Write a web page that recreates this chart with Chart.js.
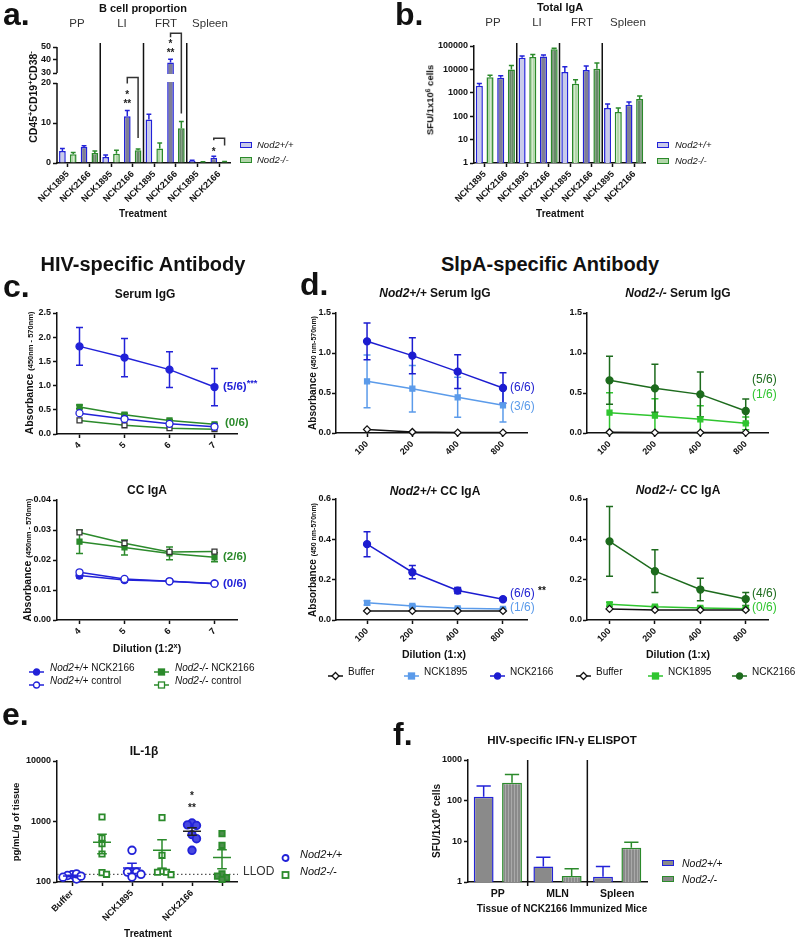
<!DOCTYPE html>
<html lang="en">
<head>
<meta charset="UTF-8" />
<meta name="viewport" content="width=device-width, initial-scale=1.0" />
<script src="https://cdn.jsdelivr.net/npm/chart.js@4.4.1/dist/chart.umd.min.js"></script>
<title>Nod2 :: B cells, IgA and antigen-specific responses</title>
<style>
  html, body { margin: 0; padding: 0; background: #fff; }
  #page { position: relative; width: 796px; height: 940px; overflow: hidden; background: #fff;
          font-family: "Liberation Sans", Arial, Helvetica, sans-serif; color: #111; }
  #page canvas { position: absolute; }
  .t { position: absolute; white-space: nowrap; line-height: 1; }
  .letter { font-size: 32px; font-weight: bold; }
  .head { font-size: 20px; font-weight: bold; }
  .ttl { font-size: 11.5px; font-weight: bold; }
  .ax { font-size: 10.5px; font-weight: bold; }
  .tis { font-size: 11.5px; color: #333; }
  .leg { font-size: 10px; }
  .frac { font-size: 12px; }
  .fracb { font-size: 11.5px; font-weight: bold; }
  sup { font-size: 70%; line-height: 0; vertical-align: 0.45em; }
  .key { position: absolute; box-sizing: border-box; }
</style>
</head>
<body>
<div id="page"></div>
<script>
// ---------- data ----------
// a. B cell proportion (CD45+CD19+CD38-), mean and SEM
const tissues = ['PP', 'LI', 'FRT', 'Spleen'];
const treatments = ['NCK1895', 'NCK2166', 'NCK1895', 'NCK2166', 'NCK1895', 'NCK2166', 'NCK1895', 'NCK2166'];
const bcellWT = [3.0, 4.0, 1.5, 11.7, 10.9, 38.0, 0.5, 1.3];
const bcellWTSem = [0.6, 0.3, 0.5, 1.4, 1.3, 2.5, 0.2, 0.4];
const bcellKO = [2.2, 2.5, 2.3, 3.2, 3.6, 8.7, 0.2, 0.3];
const bcellKOSem = [0.4, 0.5, 0.9, 0.3, 1.4, 1.7, 0.1, 0.1];
const bcellTicks = [0, 10, 20, 30, 40, 50];

// b. Total IgA, SFU / 1x10^6 cells
const igaWT = [2000, 4450, 31700, 36000, 7800, 9400, 225, 310];
const igaWTSem = [500, 850, 5300, 5000, 5200, 4600, 105, 95];
const igaKO = [4600, 9800, 34000, 72000, 2450, 10700, 152, 550];
const igaKOSem = [1000, 4700, 9000, 9000, 1150, 8300, 73, 180];
const igaTicks = [1, 10, 100, 1000, 10000, 100000];

// c. HIV-specific antibody, dilution 1:2^x
const dilExp = ['4', '5', '6', '7'];
const serumWT2166 = [1.81, 1.58, 1.33, 0.97];
const serumWT2166Sem = [0.39, 0.395, 0.37, 0.385];
const serumKO2166 = [0.56, 0.40, 0.28, 0.20];
const serumKO2166Sem = [0.04, 0.03, 0.02, 0.015];
const serumWTCtrl = [0.43, 0.31, 0.21, 0.15];
const serumKOCtrl = [0.28, 0.18, 0.12, 0.10];
const ccWT2166 = [0.0148, 0.0133, 0.0129, 0.0122];
const ccWT2166Sem = [0.0008, 0.0006, 0.0004, 0.0003];
const ccKO2166 = [0.0261, 0.0242, 0.0222, 0.0209];
const ccKO2166Sem = [0.0039, 0.0025, 0.0021, 0.0015];
const ccWTCtrl = [0.0159, 0.0137, 0.0129, 0.0121];
const ccKOCtrl = [0.0292, 0.0256, 0.0227, 0.0228];

// d. SlpA-specific antibody, dilution 1:x
const dilutions = [100, 200, 400, 800];
const slpSerumWT2166 = [1.146, 0.967, 0.767, 0.563];
const slpSerumWT2166Sem = [0.23, 0.225, 0.21, 0.19];
const slpSerumWT1895 = [0.646, 0.554, 0.446, 0.346];
const slpSerumWT1895Sem = [0.33, 0.29, 0.25, 0.21];
const slpSerumWTBuf = [0.045, 0.012, 0.005, 0.005];
const slpSerumKO2166 = [0.658, 0.558, 0.483, 0.275];
const slpSerumKO2166Sem = [0.30, 0.30, 0.28, 0.15];
const slpSerumKO1895 = [0.254, 0.217, 0.171, 0.121];
const slpSerumKO1895Sem = [0.25, 0.21, 0.17, 0.08];
const slpSerumKOBuf = [0.01, 0.005, 0.005, 0.005];
const slpCcWT2166 = [0.376, 0.237, 0.146, 0.103];
const slpCcWT2166Sem = [0.062, 0.033, 0.015, 0.006];
const slpCcWT1895 = [0.085, 0.070, 0.058, 0.055];
const slpCcWT1895Sem = [0.010, 0.005, 0.004, 0.003];
const slpCcWTBuf = [0.045, 0.045, 0.045, 0.045];
const slpCcKO2166 = [0.390, 0.242, 0.151, 0.104];
const slpCcKO2166Sem = [0.173, 0.106, 0.056, 0.032];
const slpCcKO1895 = [0.078, 0.066, 0.060, 0.056];
const slpCcKO1895Sem = [0.010, 0.006, 0.005, 0.004];
const slpCcKOBuf = [0.055, 0.050, 0.050, 0.050];

// e. IL-1beta, pg/mL/g of tissue (individual mice)
const il1bGroups = ['Buffer', '', 'NCK1895', '', 'NCK2166', ''];
const il1bBufferWT = [132, 112, 128, 136, 125, 120];
const il1bBufferKO = [1186, 533, 430, 290, 143, 134];
const il1b1895WT = [334, 146, 146, 146, 121, 134];
const il1b1895KO = [1160, 276, 150, 145, 145, 132];
const il1b2166WT = [944, 860, 880, 606, 520, 334];
const il1b2166KO = [630, 404, 136, 118, 125, 110];
const il1bTicks = [100, 1000, 10000];
const llod = 134;

// f. HIV-specific IFN-gamma ELISPOT
const ifnTissues = ['PP', 'MLN', 'Spleen'];
const ifnWT = [124, 2.39, 1.35];
const ifnWTSem = [104, 1.66, 1.04];
const ifnKO = [276, 1.41, 7.0];
const ifnKOSem = [167, 0.72, 2.5];
const ifnTicks = [1, 10, 100, 1000];

// ---------- setup ----------
const page = document.getElementById('page');
const INK = '#111';
const BLUE = '#2222d8', GREEN = '#2b8a2b';
const D_BLUE = '#1c1cd0', L_BLUE = '#5b9bea', D_GREEN = '#1d6b1d', B_GREEN = '#2fc52f';

Chart.defaults.font.family = '"Liberation Sans", Arial, Helvetica, sans-serif';
Chart.defaults.font.size = 9;
Chart.defaults.font.weight = 'bold';
Chart.defaults.color = INK;
Chart.defaults.animation = false;
Chart.defaults.responsive = false;
Chart.defaults.events = [];
Chart.defaults.plugins.legend.display = false;
Chart.defaults.plugins.tooltip.enabled = false;

function stripes(base, line) {
  const p = document.createElement('canvas');
  p.width = 3; p.height = 3;
  const g = p.getContext('2d');
  g.fillStyle = base; g.fillRect(0, 0, 3, 3);
  g.fillStyle = line; g.fillRect(1, 0, 1, 3);
  return g.createPattern(p, 'repeat');
}
const WT_LIGHT = '#c9cbea', WT_DARK = '#7f7f95';
const KO_LIGHT = stripes('#b2d6aa', '#d4ead0');
const KO_DARK = stripes('#68886a', '#87a386');
const GREY = '#8a8a8a', GREY_STRIPE = stripes('#8a8a8a', '#a9a9a9');

function axis(opts) {
  const o = Object.assign({
    border: { display: true, color: INK, width: 1.5 },
    grid: { display: true, drawOnChartArea: false, drawTicks: true, tickLength: 4, tickWidth: 1.5, tickColor: INK, offset: false },
  }, opts);
  o.ticks = Object.assign({ color: INK, padding: 2, autoSkip: false, font: { size: 9, weight: 'bold' } }, opts.ticks || {});
  return o;
}

// puts a chart so that its plot area lands on box (page pixels)
function place(box, cfg) {
  const m = { l: 60, t: 30, r: 40, b: 70 };
  const w = box.r - box.l + m.l + m.r, h = box.b - box.t + m.t + m.b;
  const cv = document.createElement('canvas');
  cv.width = w; cv.height = h;
  cv.style.left = (box.l - m.l) + 'px';
  cv.style.top = (box.t - m.t) + 'px';
  cv.style.width = w + 'px'; cv.style.height = h + 'px';
  page.appendChild(cv);
  cfg.options.layout = { padding: { left: 0, right: m.r, top: m.t, bottom: 0 } };
  cfg.options.scales.x.afterFit = s => { s.height = m.b; s.paddingLeft = 0; s.paddingRight = 0; };
  cfg.options.scales.y.afterFit = s => { s.width = m.l; s.paddingTop = 0; s.paddingBottom = 0; };
  return new Chart(cv, cfg);
}

function T(x, y, html, cls, css, anchor) {
  const d = document.createElement('div');
  d.className = 't ' + (cls || '');
  d.innerHTML = html;
  d.style.left = x + 'px';
  d.style.top = y + 'px';
  d.style.transform = anchor === 'l' ? 'translate(0,-50%)'
    : anchor === 'v' ? 'translate(-50%,-50%) rotate(-90deg)' : 'translate(-50%,-50%)';
  if (css) d.style.cssText += css;
  page.appendChild(d);
}

function marker(shape, fill, edge) {
  if (shape === 'circle') return `<circle cx="7.5" cy="5" r="3" fill="${fill}" stroke="${edge}" stroke-width="1.3"/>`;
  if (shape === 'rect') return `<rect x="4.5" y="2" width="6" height="6" fill="${fill}" stroke="${edge}" stroke-width="1.3"/>`;
  return `<path d="M7.5 1.5L11 5L7.5 8.5L4 5Z" fill="${fill}" stroke="${edge}" stroke-width="1.3"/>`;
}
function keyLine(x, y, color, shape, filled, edge) {
  const d = document.createElement('div');
  d.className = 'key';
  d.style.left = x + 'px'; d.style.top = (y - 5) + 'px';
  d.innerHTML = `<svg width="15" height="10"><line x1="0" y1="5" x2="15" y2="5" stroke="${color}" stroke-width="1.5"/>` +
    marker(shape, filled ? color : '#fff', edge || color) + '</svg>';
  page.appendChild(d);
}
function keyDot(x, y, color, shape) {
  const d = document.createElement('div');
  d.className = 'key';
  d.style.left = (x - 7.5) + 'px'; d.style.top = (y - 5) + 'px';
  d.innerHTML = '<svg width="15" height="10">' + marker(shape, '#fff', color).replace('stroke-width="1.3"', 'stroke-width="1.8"') + '</svg>';
  page.appendChild(d);
}
function keyBox(x, y, edge, fill) {
  const d = document.createElement('div');
  d.className = 'key';
  d.style.cssText += `left:${x}px;top:${y - 3}px;width:12px;height:6px;border:1.5px solid ${edge};background:${fill};`;
  page.appendChild(d);
}

// error bars: bars get the upper whisker only, lines both
function errorBars(opts) {
  const map = (opts && opts.map) || (v => v);
  const hook = opts && opts.under ? 'beforeDatasetsDraw' : 'afterDatasetsDraw';
  return {
    id: 'errorBars',
    [hook](chart) {
      const ctx = chart.ctx, ys = chart.scales.y, isBar = chart.config.type === 'bar';
      chart.data.datasets.forEach((ds, di) => {
        if (!ds.err) return;
        ctx.save();
        ctx.strokeStyle = ds.errColor || ds.borderColor;
        ctx.lineWidth = 1.5;
        chart.getDatasetMeta(di).data.forEach((el, i) => {
          const v = ds.values[i], e = ds.err[i];
          const cap = isBar ? el.width * 0.36 : 3.5;
          const top = ys.getPixelForValue(map(v + e));
          const bot = isBar ? el.y : ys.getPixelForValue(map(Math.max(v - e, 0)));
          ctx.beginPath();
          ctx.moveTo(el.x, bot); ctx.lineTo(el.x, top);
          ctx.moveTo(el.x - cap, top); ctx.lineTo(el.x + cap, top);
          if (!isBar) { ctx.moveTo(el.x - cap, bot); ctx.lineTo(el.x + cap, bot); }
          ctx.stroke();
        });
        ctx.restore();
      });
    }
  };
}

function separators(idx, above, below) {
  return {
    id: 'separators',
    afterDatasetsDraw(chart) {
      const { ctx, chartArea: ca, scales: { x } } = chart;
      ctx.save();
      ctx.strokeStyle = INK; ctx.lineWidth = 1.5;
      idx.forEach(i => {
        const px = (x.getPixelForValue(i - 1) + x.getPixelForValue(i)) / 2;
        ctx.beginPath(); ctx.moveTo(px, ca.top - above); ctx.lineTo(px, ca.bottom + below); ctx.stroke();
      });
      ctx.restore();
    }
  };
}

function lineSet(values, color, shape, filled, sem, edge, xs) {
  return {
    data: xs ? xs.map((x, i) => ({ x, y: values[i] })) : values,
    values, err: sem || null, errColor: color,
    borderColor: color, borderWidth: 1.5, backgroundColor: filled ? color : '#fff',
    pointStyle: shape, pointRadius: 3.5, pointBorderWidth: 1.3,
    pointBorderColor: edge || color, pointBackgroundColor: filled ? color : '#fff',
    tension: 0, clip: false
  };
}

// ---------- a. B cell proportion (broken y axis) ----------
function bcellAxis(v) { return v <= 20 ? v * 4 : 90 + (v - 30) * 1.3; }
const bcellBrackets = [
  { i: 3, rise: 33, leg: 6, drop: 11, stars: ['**', '*'] },
  { i: 5, rise: 26, leg: 4, drop: 8, stars: ['**', '*'] },
  { i: 7, rise: 18, leg: 2, drop: 16, stars: ['*'] },
];
const decoA = {
  id: 'decoA',
  afterDatasetsDraw(chart) {
    const { ctx, chartArea: ca, scales: { y } } = chart;
    const gTop = y.getPixelForValue(bcellAxis(30)), gBot = y.getPixelForValue(bcellAxis(20));
    ctx.save();
    chart.data.datasets.forEach((ds, di) => chart.getDatasetMeta(di).data.forEach((el, i) => {
      if (ds.values[i] > 30) {
        ctx.fillStyle = '#fff';
        ctx.fillRect(el.x - el.width / 2 - 1, gTop + 1, el.width + 2, gBot - gTop - 2);
      }
    }));
    ctx.strokeStyle = INK; ctx.lineWidth = 1.5;
    ctx.beginPath();
    ctx.moveTo(ca.left, ca.bottom + 0.75); ctx.lineTo(ca.left, gBot);
    ctx.moveTo(ca.left, gTop); ctx.lineTo(ca.left, ca.top);
    ctx.stroke();
    const wt = chart.getDatasetMeta(0).data, ko = chart.getDatasetMeta(1).data;
    ctx.strokeStyle = '#333';
    ctx.fillStyle = '#222';
    ctx.font = 'bold 10px "Liberation Sans", Arial';
    ctx.textAlign = 'center'; ctx.textBaseline = 'middle';
    bcellBrackets.forEach(b => {
      const t0 = y.getPixelForValue(bcellAxis(bcellWT[b.i] + bcellWTSem[b.i]));
      const t1 = y.getPixelForValue(bcellAxis(bcellKO[b.i] + bcellKOSem[b.i]));
      const top = t0 - b.rise;
      ctx.beginPath();
      ctx.moveTo(wt[b.i].x, top + b.leg); ctx.lineTo(wt[b.i].x, top);
      ctx.lineTo(ko[b.i].x, top); ctx.lineTo(ko[b.i].x, t1 - b.drop);
      ctx.stroke();
      b.stars.forEach((s, k) => ctx.fillText(s, wt[b.i].x, t0 - 6 - k * 11 + (s === '*' ? 2 : 0)));
    });
    ctx.restore();
  }
};

place({ l: 57, t: 47, r: 230, b: 163 }, {
  type: 'bar',
  data: {
    labels: treatments,
    datasets: [
      { label: 'Nod2+/+', data: bcellWT.map(bcellAxis), values: bcellWT, err: bcellWTSem,
        backgroundColor: treatments.map(t => t === 'NCK1895' ? WT_LIGHT : WT_DARK),
        borderColor: BLUE, borderWidth: 1.5, barPercentage: 0.62, categoryPercentage: 1 },
      { label: 'Nod2-/-', data: bcellKO.map(bcellAxis), values: bcellKO, err: bcellKOSem,
        backgroundColor: treatments.map(t => t === 'NCK1895' ? KO_LIGHT : KO_DARK),
        borderColor: GREEN, borderWidth: 1.5, barPercentage: 0.62, categoryPercentage: 1 },
    ]
  },
  options: {
    scales: {
      x: axis({ type: 'category', offset: true, ticks: { minRotation: 45, maxRotation: 45 } }),
      y: axis({ min: 0, max: bcellAxis(50), border: { display: false },
        afterBuildTicks: s => { s.ticks = bcellTicks.map(v => ({ value: bcellAxis(v) })); },
        ticks: { callback: (v, i) => String(bcellTicks[i]) } }),
    }
  },
  plugins: [decoA, separators([2, 4, 6], 4, 0), errorBars({ map: bcellAxis })]
});

// ---------- b. Total IgA ----------
place({ l: 474, t: 46, r: 645, b: 163 }, {
  type: 'bar',
  data: {
    labels: treatments,
    datasets: [
      { label: 'Nod2+/+', data: igaWT, values: igaWT, err: igaWTSem,
        backgroundColor: treatments.map(t => t === 'NCK1895' ? WT_LIGHT : WT_DARK),
        borderColor: BLUE, borderWidth: 1.5, barPercentage: 0.66, categoryPercentage: 1 },
      { label: 'Nod2-/-', data: igaKO, values: igaKO, err: igaKOSem,
        backgroundColor: treatments.map(t => t === 'NCK1895' ? KO_LIGHT : KO_DARK),
        borderColor: GREEN, borderWidth: 1.5, barPercentage: 0.66, categoryPercentage: 1 },
    ]
  },
  options: {
    scales: {
      x: axis({ type: 'category', offset: true, ticks: { minRotation: 45, maxRotation: 45 } }),
      y: axis({ type: 'logarithmic', min: 1, max: 100000,
        afterBuildTicks: s => { s.ticks = igaTicks.map(v => ({ value: v })); },
        ticks: { callback: v => String(v) } }),
    }
  },
  plugins: [separators([2, 4, 6], 3, 0), errorBars()]
});

// ---------- c. HIV-specific antibody ----------
const cX = () => axis({ type: 'category', offset: true, ticks: { minRotation: 45, maxRotation: 45 } });
place({ l: 57, t: 313, r: 237, b: 434 }, {
  type: 'line',
  data: {
    labels: dilExp,
    datasets: [
      lineSet(serumWTCtrl, BLUE, 'circle', false),
      lineSet(serumKOCtrl, GREEN, 'rect', false, null, '#333'),
      lineSet(serumKO2166, GREEN, 'rect', true, serumKO2166Sem),
      lineSet(serumWT2166, BLUE, 'circle', true, serumWT2166Sem),
    ]
  },
  options: { scales: { x: cX(), y: axis({ min: 0, max: 2.5, ticks: { stepSize: 0.5, callback: v => v.toFixed(1) } }) } },
  plugins: [errorBars({ under: true })]
});
place({ l: 57, t: 500, r: 237, b: 620 }, {
  type: 'line',
  data: {
    labels: dilExp,
    datasets: [
      lineSet(ccWTCtrl, BLUE, 'circle', false),
      lineSet(ccKOCtrl, GREEN, 'rect', false, null, '#333'),
      lineSet(ccKO2166, GREEN, 'rect', true, ccKO2166Sem),
      lineSet(ccWT2166, BLUE, 'circle', true, ccWT2166Sem),
    ]
  },
  options: { scales: { x: cX(), y: axis({ min: 0, max: 0.04, ticks: { stepSize: 0.01, callback: v => v.toFixed(2) } }) } },
  plugins: [errorBars({ under: true })]
});

// ---------- d. SlpA-specific antibody ----------
function dX(min, max) {
  return axis({ type: 'logarithmic', min, max,
    afterBuildTicks: s => { s.ticks = dilutions.map(v => ({ value: v })); },
    ticks: { minRotation: 45, maxRotation: 45, callback: v => String(v) } });
}
function dChart(box, xmin, xmax, ymax, sets) {
  place(box, {
    type: 'line',
    data: { datasets: sets },
    options: { scales: { x: dX(xmin, xmax),
      y: axis({ min: 0, max: ymax, ticks: { padding: 1, stepSize: ymax === 1.5 ? 0.5 : 0.2, callback: v => v.toFixed(1) } }) } },
    plugins: [errorBars({ under: true })]
  });
}
dChart({ l: 336, t: 313, r: 527, b: 433 }, 62.2, 1155, 1.5, [
  lineSet(slpSerumWTBuf, INK, 'rectRot', false, null, null, dilutions),
  lineSet(slpSerumWT1895, L_BLUE, 'rect', true, slpSerumWT1895Sem, null, dilutions),
  lineSet(slpSerumWT2166, D_BLUE, 'circle', true, slpSerumWT2166Sem, null, dilutions),
]);
dChart({ l: 587, t: 313, r: 768, b: 433 }, 70.9, 1124, 1.5, [
  lineSet(slpSerumKOBuf, INK, 'rectRot', false, null, null, dilutions),
  lineSet(slpSerumKO1895, B_GREEN, 'rect', true, slpSerumKO1895Sem, null, dilutions),
  lineSet(slpSerumKO2166, D_GREEN, 'circle', true, slpSerumKO2166Sem, null, dilutions),
]);
dChart({ l: 336, t: 499, r: 527, b: 620 }, 62.2, 1155, 0.6, [
  lineSet(slpCcWTBuf, INK, 'rectRot', false, null, null, dilutions),
  lineSet(slpCcWT1895, L_BLUE, 'rect', true, slpCcWT1895Sem, null, dilutions),
  lineSet(slpCcWT2166, D_BLUE, 'circle', true, slpCcWT2166Sem, null, dilutions),
]);
dChart({ l: 587, t: 499, r: 768, b: 620 }, 70.9, 1124, 0.6, [
  lineSet(slpCcKOBuf, INK, 'rectRot', false, null, null, dilutions),
  lineSet(slpCcKO1895, B_GREEN, 'rect', true, slpCcKO1895Sem, null, dilutions),
  lineSet(slpCcKO2166, D_GREEN, 'circle', true, slpCcKO2166Sem, null, dilutions),
]);

// ---------- e. IL-1beta ----------
const il1bCols = [il1bBufferWT, il1bBufferKO, il1b1895WT, il1b1895KO, il1b2166WT, il1b2166KO];
const il1bFilled = [false, false, false, false, true, true];
const PX_DEC = 60.5, PX_COL = 30, R = 4.5;
function swarm(vals, col) {
  const placed = [];
  return vals.map(v => {
    const py = Math.log10(v) * PX_DEC;
    let dx = 0;
    for (const o of [0, 1, -1, 2, -2, 3, -3]) {
      if (!placed.some(p => Math.hypot(p.dx - o * R, p.py - py) < R)) { dx = o * R; break; }
    }
    placed.push({ dx, py });
    return { x: col + dx / PX_COL, y: v };
  });
}
const wtPts = [], koPts = [], wtFill = [], koFill = [];
il1bCols.forEach((vals, c) => {
  const pts = swarm(vals, c);
  if (c % 2 === 0) { wtPts.push(...pts); vals.forEach(() => wtFill.push(il1bFilled[c] ? '#4848e0' : '#fff')); }
  else { koPts.push(...pts); vals.forEach(() => koFill.push(il1bFilled[c] ? '#4c8f4c' : '#fff')); }
});
const decoE = {
  id: 'decoE',
  beforeDatasetsDraw(chart) {
    const { ctx, chartArea: ca, scales: { y } } = chart;
    const py = y.getPixelForValue(llod);
    ctx.save();
    ctx.setLineDash([1.5, 2.5]); ctx.strokeStyle = '#555'; ctx.lineWidth = 1.3;
    ctx.beginPath(); ctx.moveTo(ca.left, py); ctx.lineTo(ca.right + 1, py); ctx.stroke();
    ctx.restore();
  },
  afterDatasetsDraw(chart) {
    const { ctx, scales: { x, y } } = chart;
    ctx.save();
    ctx.lineWidth = 1.5;
    il1bCols.forEach((vals, c) => {
      const n = vals.length, mean = vals.reduce((a, b) => a + b, 0) / n;
      const sd = Math.sqrt(vals.reduce((a, b) => a + (b - mean) ** 2, 0) / (n - 1));
      const sem = sd / Math.sqrt(n);
      const xc = x.getPixelForValue(c), hw = 0.3 * PX_COL, cw = 0.16 * PX_COL;
      const ym = y.getPixelForValue(mean), yt = y.getPixelForValue(mean + sem), yb = y.getPixelForValue(mean - sem);
      ctx.strokeStyle = c % 2 ? GREEN : (c === 4 ? '#222' : BLUE);
      ctx.beginPath();
      ctx.moveTo(xc - hw, ym); ctx.lineTo(xc + hw, ym);
      ctx.moveTo(xc, yb); ctx.lineTo(xc, yt);
      ctx.moveTo(xc - cw, yt); ctx.lineTo(xc + cw, yt);
      ctx.moveTo(xc - cw, yb); ctx.lineTo(xc + cw, yb);
      ctx.stroke();
    });
    const xs = x.getPixelForValue(4), top = y.getPixelForValue(Math.max(...il1b2166WT));
    ctx.fillStyle = '#222';
    ctx.font = 'bold 10px "Liberation Sans", Arial';
    ctx.textAlign = 'center'; ctx.textBaseline = 'middle';
    ctx.fillText('**', xs, top - 15);
    ctx.fillText('*', xs, top - 27);
    ctx.restore();
  }
};
place({ l: 57, t: 761, r: 237, b: 882 }, {
  type: 'scatter',
  data: {
    datasets: [
      { data: wtPts, pointStyle: 'circle', pointRadius: 3.8, pointBorderWidth: 1.8,
        borderColor: BLUE, pointBorderColor: BLUE, pointBackgroundColor: wtFill, clip: false },
      { data: koPts, pointStyle: 'rect', pointRadius: 3.8, pointBorderWidth: 1.8,
        borderColor: GREEN, pointBorderColor: GREEN, pointBackgroundColor: koFill, clip: false },
    ]
  },
  options: {
    scales: {
      x: axis({ type: 'linear', min: -0.5, max: il1bGroups.length - 0.5,
        afterBuildTicks: s => { s.ticks = il1bGroups.map((g, i) => ({ value: i })); },
        ticks: { minRotation: 45, maxRotation: 45, callback: (v, i) => il1bGroups[i] } }),
      y: axis({ type: 'logarithmic', min: 100, max: 10000,
        afterBuildTicks: s => { s.ticks = il1bTicks.map(v => ({ value: v })); },
        ticks: { callback: v => String(v) } }),
    }
  },
  plugins: [decoE]
});

// ---------- f. IFN-gamma ELISPOT ----------
place({ l: 468, t: 760, r: 647, b: 882 }, {
  type: 'bar',
  data: {
    labels: ifnTissues,
    datasets: [
      { label: 'Nod2+/+', data: ifnWT, values: ifnWT, err: ifnWTSem, backgroundColor: GREY,
        borderColor: BLUE, borderWidth: 1.5, barPercentage: 0.7, categoryPercentage: 0.95 },
      { label: 'Nod2-/-', data: ifnKO, values: ifnKO, err: ifnKOSem, backgroundColor: GREY_STRIPE,
        borderColor: GREEN, borderWidth: 1.5, barPercentage: 0.7, categoryPercentage: 0.95 },
    ]
  },
  options: {
    scales: {
      x: axis({ type: 'category', offset: true,
        grid: { display: true, drawOnChartArea: false, drawTicks: false, tickLength: 0 },
        ticks: { minRotation: 0, maxRotation: 0, padding: 6, font: { size: 10.5, weight: 'bold' } } }),
      y: axis({ type: 'logarithmic', min: 1, max: 1000,
        afterBuildTicks: s => { s.ticks = ifnTicks.map(v => ({ value: v })); },
        ticks: { callback: v => String(v) } }),
    }
  },
  plugins: [separators([1, 2], 0, 4), errorBars()]
});

// ---------- text ----------
T(3, 14, 'a.', 'letter', null, 'l');
T(395, 14, 'b.', 'letter', null, 'l');
T(3, 286, 'c.', 'letter', null, 'l');
T(300, 284, 'd.', 'letter', null, 'l');
T(2, 714, 'e.', 'letter', null, 'l');
T(393, 734, 'f.', 'letter', null, 'l');
T(143, 264, 'HIV-specific Antibody', 'head');
T(550, 264, 'SlpA-specific Antibody', 'head');

// a
T(143, 8, 'B cell proportion', 'ttl', 'font-size:11px');
[[77, 'PP'], [122, 'LI'], [166, 'FRT'], [210, 'Spleen']].forEach(([x, s]) => T(x, 24, s, 'tis'));
T(33, 97, 'CD45<sup>+</sup>CD19<sup>+</sup>CD38<sup>-</sup>', 'ax', null, 'v');
T(143, 214, 'Treatment', 'ax', 'font-size:10px');
keyBox(240, 145, BLUE, WT_LIGHT); T(257, 145, '<i>Nod2+/+</i>', 'leg', 'font-size:9.5px', 'l');
keyBox(240, 160, GREEN, '#b2d6aa'); T(257, 160, '<i>Nod2-/-</i>', 'leg', 'font-size:9.5px', 'l');

// b
T(560, 7, 'Total IgA', 'ttl', 'font-size:11px');
[[493, 'PP'], [537, 'LI'], [582, 'FRT'], [628, 'Spleen']].forEach(([x, s]) => T(x, 23, s, 'tis'));
T(430, 100, 'SFU/1x10<sup>6</sup> cells', 'ax', 'font-size:9.5px', 'v');
T(560, 214, 'Treatment', 'ax', 'font-size:10px');
keyBox(657, 145, BLUE, WT_LIGHT); T(675, 145, '<i>Nod2+/+</i>', 'leg', 'font-size:9.5px', 'l');
keyBox(657, 161, GREEN, '#b2d6aa'); T(675, 161, '<i>Nod2-/-</i>', 'leg', 'font-size:9.5px', 'l');

// c
const absC = 'Absorbance <span style="font-size:7.5px">(450nm - 570nm)</span>';
T(145, 294, 'Serum IgG', 'ttl', 'font-size:12px');
T(147, 490, 'CC IgA', 'ttl', 'font-size:12px');
T(29, 373, absC, 'ax', null, 'v');
T(27, 560, absC, 'ax', null, 'v');
T(147, 648, 'Dilution (1:2<sup>x</sup>)', 'ax');
T(223, 387, '(5/6)<sup style="font-size:80%">***</sup>', 'fracb', 'color:' + BLUE, 'l');
T(225, 423, '(0/6)', 'fracb', 'color:' + GREEN, 'l');
T(223, 557, '(2/6)', 'fracb', 'color:' + GREEN, 'l');
T(223, 584, '(0/6)', 'fracb', 'color:' + BLUE, 'l');
keyLine(29, 668, BLUE, 'circle', true); T(50, 668, '<i>Nod2+/+</i> NCK2166', 'leg', null, 'l');
keyLine(154, 668, GREEN, 'rect', true); T(175, 668, '<i>Nod2-/-</i> NCK2166', 'leg', null, 'l');
keyLine(29, 681, BLUE, 'circle', false); T(50, 681, '<i>Nod2+/+</i> control', 'leg', null, 'l');
keyLine(154, 681, GREEN, 'rect', false); T(175, 681, '<i>Nod2-/-</i> control', 'leg', null, 'l');

// d
const absD = 'Absorbance <span style="font-size:7px">(450 nm-570nm)</span>';
T(435, 293, '<i>Nod2+/+</i> Serum IgG', 'ttl', 'font-size:12px');
T(678, 293, '<i>Nod2-/-</i> Serum IgG', 'ttl', 'font-size:12px');
T(435, 491, '<i>Nod2+/+</i> CC IgA', 'ttl', 'font-size:12px');
T(678, 490, '<i>Nod2-/-</i> CC IgA', 'ttl', 'font-size:12px');
T(313, 373, absD, 'ax', 'font-size:10px', 'v');
T(313, 560, absD, 'ax', 'font-size:10px', 'v');
T(434, 654, 'Dilution (1:x)', 'ax');
T(678, 654, 'Dilution (1:x)', 'ax');
T(510, 387, '(6/6)', 'frac', 'color:' + D_BLUE, 'l');
T(510, 406, '(3/6)', 'frac', 'color:' + L_BLUE, 'l');
T(752, 379, '(5/6)', 'frac', 'color:' + D_GREEN, 'l');
T(752, 394, '(1/6)', 'frac', 'color:' + B_GREEN, 'l');
T(510, 593, '(6/6)', 'frac', 'color:' + D_BLUE, 'l');
T(538, 591, '**', 'fracb', 'font-size:10px', 'l');
T(510, 607, '(1/6)', 'frac', 'color:' + L_BLUE, 'l');
T(752, 593, '(4/6)', 'frac', 'color:' + D_GREEN, 'l');
T(752, 607, '(0/6)', 'frac', 'color:' + B_GREEN, 'l');
keyLine(328, 672, INK, 'rectRot', false); T(348, 672, 'Buffer', 'leg', null, 'l');
keyLine(404, 672, L_BLUE, 'rect', true); T(424, 672, 'NCK1895', 'leg', null, 'l');
keyLine(490, 672, D_BLUE, 'circle', true); T(510, 672, 'NCK2166', 'leg', null, 'l');
keyLine(576, 672, INK, 'rectRot', false); T(596, 672, 'Buffer', 'leg', null, 'l');
keyLine(648, 672, B_GREEN, 'rect', true); T(668, 672, 'NCK1895', 'leg', null, 'l');
keyLine(732, 672, D_GREEN, 'circle', true); T(752, 672, 'NCK2166', 'leg', null, 'l');

// e
T(144, 751, 'IL-1β', 'ttl', 'font-size:12px');
T(16, 822, 'pg/mL/g of tissue', 'ax', 'font-size:9.5px', 'v');
T(148, 934, 'Treatment', 'ax', 'font-size:10px');
T(243, 871, 'LLOD', 'frac', 'color:#333', 'l');
keyDot(285, 854, BLUE, 'circle'); T(300, 854, '<i>Nod2+/+</i>', 'leg', 'font-size:11px', 'l');
keyDot(285, 871, GREEN, 'rect'); T(300, 871, '<i>Nod2-/-</i>', 'leg', 'font-size:11px', 'l');

// f
T(562, 741, 'HIV-specific IFN-γ ELISPOT', 'ttl', 'font-size:11.5px');
T(437, 821, 'SFU/1x10<sup>6</sup> cells', 'ax', 'font-size:10px', 'v');
T(562, 909, 'Tissue of NCK2166 Immunized Mice', 'ax', 'font-size:10px');
keyBox(662, 863, BLUE, GREY); T(682, 863, '<i>Nod2+/+</i>', 'leg', 'font-size:10.5px', 'l');
keyBox(662, 879, GREEN, GREY); T(682, 879, '<i>Nod2-/-</i>', 'leg', 'font-size:10.5px', 'l');
</script>
</body>
</html>
